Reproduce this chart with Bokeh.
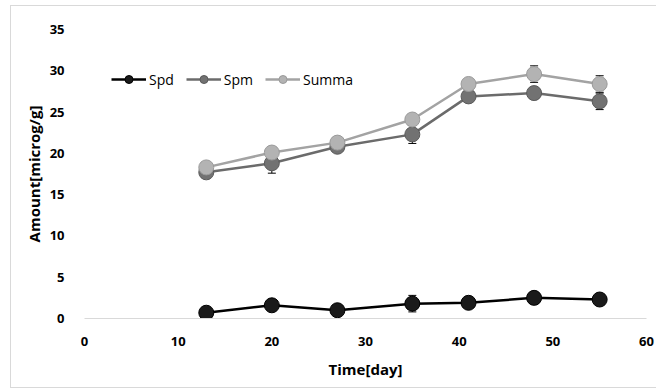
import numpy as np
from bokeh.plotting import figure
from bokeh.models import (Range1d, FixedTicker, Whisker, ColumnDataSource, Title,
                          Legend, TeeHead)
from bokeh.embed import file_html
from bokeh.resources import INLINE

days = [13, 20, 27, 35, 41, 48, 55]
spd = [0.7, 1.6, 1.0, 1.8, 1.9, 2.5, 2.3]
spd_err = [0.3, 0.6, 0.3, 1.0, 0.4, 0.4, 0.5]
spm = [17.7, 18.8, 20.8, 22.3, 26.9, 27.3, 26.3]
spm_err = [0.5, 1.2, 0.5, 1.1, 0.5, 0.6, 1.0]
summa = [18.3, 20.1, 21.3, 24.1, 28.4, 29.6, 28.4]
summa_err = [0.5, 0.6, 0.5, 0.6, 0.6, 1.0, 1.0]
series_names = ["Spd", "Spm", "Summa"]
x_ticks = [0, 10, 20, 30, 40, 50, 60]
y_ticks = [0, 5, 10, 15, 20, 25, 30, 35]
x_title = "Time[day]"
y_title = "Amount[microg/g]"

FONT = "Open Sans"

p = figure(width=646, height=383, output_backend="svg", toolbar_location=None,
           x_range=Range1d(0, 60), y_range=Range1d(0, 35),
           min_border_left=73, min_border_right=11, min_border_top=23,
           min_border_bottom=71, margin=(5, 0, 0, 10),
           styles={"border-top": "1px solid #d9d9d9",
                   "border-left": "1px solid #d9d9d9",
                   "border-bottom": "1px solid #d9d9d9"})
p.outline_line_color = None
p.xgrid.visible = False
p.ygrid.visible = False

# axes
p.xaxis.ticker = FixedTicker(ticks=x_ticks)
p.yaxis.ticker = FixedTicker(ticks=y_ticks)
for ax in (p.xaxis[0], p.yaxis[0]):
    ax.major_tick_line_color = None
    ax.minor_tick_line_color = None
    ax.major_label_text_font = FONT
    ax.major_label_text_font_style = "bold"
    ax.major_label_text_font_size = "13px"
    ax.major_label_text_color = "#000000"
p.xaxis.axis_line_color = "#d9d9d9"
p.xaxis.axis_line_width = 1
p.yaxis.axis_line_color = None
p.yaxis.major_label_standoff = 14
p.xaxis.major_label_standoff = 12
p.xaxis.axis_label = x_title
p.xaxis.axis_label_text_font = FONT
p.xaxis.axis_label_text_font_style = "bold"
p.xaxis.axis_label_text_font_size = "15px"
p.xaxis.axis_label_text_color = "#000000"
p.xaxis.axis_label_standoff = 10

ytitle = Title(text=y_title, align="center", offset=-17, standoff=6,
               text_font=FONT, text_font_style="bold",
               text_font_size="15px", text_color="#000000")
p.add_layout(ytitle, "left")

colors_line = ["#000000", "#6b6b6b", "#a3a3a3"]
colors_fill = ["#1a1a1a", "#727272", "#b3b3b3"]
colors_edge = ["#000000", "#5a5a5a", "#9a9a9a"]
data = [(spd, spd_err), (spm, spm_err), (summa, summa_err)]

items = []
for name, (vals, errs), lc, fc, ec in zip(series_names, data, colors_line, colors_fill, colors_edge):
    src = ColumnDataSource(dict(x=days, y=vals,
                                lo=[v - e for v, e in zip(vals, errs)],
                                hi=[v + e for v, e in zip(vals, errs)]))
    w = Whisker(source=src, base="x", lower="lo", upper="hi",
                line_color="#000000", line_width=1,
                upper_head=TeeHead(size=8, line_color="#000000", line_width=1),
                lower_head=TeeHead(size=8, line_color="#000000", line_width=1))
    p.add_layout(w)
    r1 = p.line("x", "y", source=src, line_color=lc, line_width=2.5)
    r2 = p.scatter("x", "y", source=src, size=15, fill_color=fc,
                   line_color=ec, line_width=1)
    items.append((name, [r1, r2]))

legend = Legend(items=items, orientation="horizontal", location=(27, 229),
                glyph_width=35, glyph_height=20, label_height=20,
                label_standoff=3, spacing=12, padding=0, margin=0,
                border_line_color=None, background_fill_alpha=0,
                label_text_font=FONT, label_text_font_size="14px",
                label_text_color="#000000")
p.add_layout(legend, "center")

open("out.html", "w").write(file_html(p, INLINE))
